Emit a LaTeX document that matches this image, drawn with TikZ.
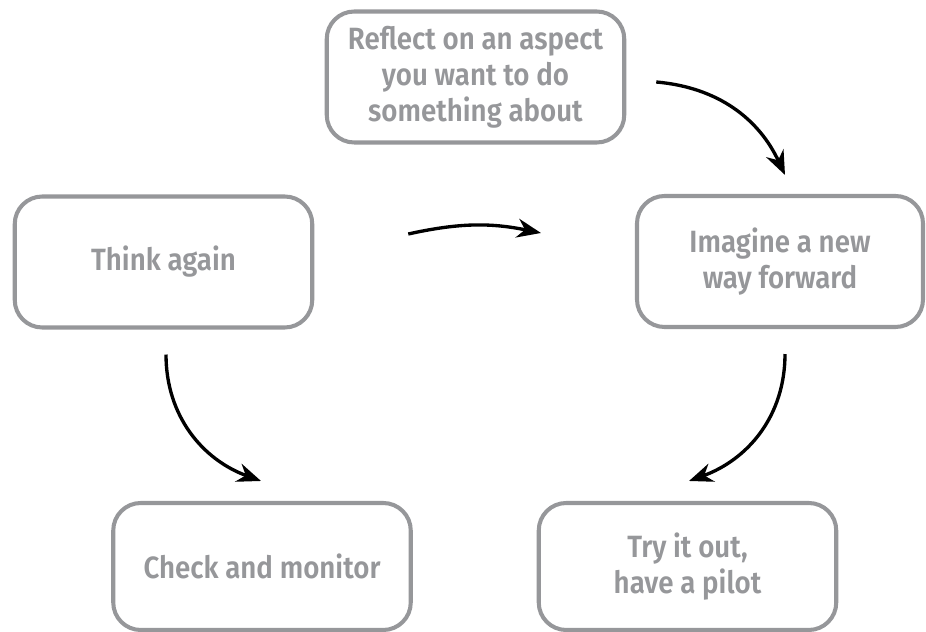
\documentclass[tikz,border=0pt]{standalone}
\usepackage{fontspec}
\setmainfont{Fira Sans}[UprightFont=* SemiBold, FakeStretch=0.9]
\usepackage{xcolor}
\usepackage{tikz}
\usetikzlibrary{arrows.meta}

\definecolor{boxgrey}{RGB}{150,151,154}

\begin{document}
\begin{tikzpicture}[
    stagebox/.style={draw=boxgrey, line width=2.3pt, rounded corners=0.55cm,
        align=center, text=boxgrey, font=\fontsize{17.5}{20.5}\selectfont,
        minimum width=5.95cm, minimum height=2.62cm, inner sep=0pt},
    cyclearrow/.style={-{Stealth[length=4.8mm,width=3.8mm]}, line width=1.9pt, black}
]
    \useasboundingbox (0,0) rectangle (18.52,12.64);

    % The five steps
    \node[stagebox] (reflect) at (9.51,11.10) {Reflect on an aspect\\you want to do\\something about};
    \node[stagebox] (think) at (3.27,7.40) {Think again};
    \node[stagebox, minimum width=5.72cm] (imagine) at (15.60,7.41) {Imagine a new\\way forward};
    \node[stagebox, minimum height=2.54cm] (check) at (5.24,1.31) {Check and monitor};
    \node[stagebox, minimum height=2.54cm] (try) at (13.75,1.31) {Try it out,\\have a pilot};

    % Arrows (they stop short of the boxes)
    \draw[cyclearrow] ([xshift=0.6cm,yshift=-0.1cm]reflect.east) to[out=-5,in=115] ([xshift=0.1cm,yshift=0.38cm]imagine.north);
    \draw[cyclearrow] ([xshift=1.88cm,yshift=0.56cm]think.east) to[bend left=12] ([xshift=-1.88cm,yshift=0.57cm]imagine.west);
    \draw[cyclearrow] ([xshift=0.05cm,yshift=-0.5cm]think.south) to[out=-90,in=160] ([xshift=-0.02cm,yshift=0.4cm]check.north);
    \draw[cyclearrow] ([xshift=0.1cm,yshift=-0.5cm]imagine.south) to[out=-90,in=20] ([xshift=0.03cm,yshift=0.4cm]try.north);
\end{tikzpicture}
\end{document}
